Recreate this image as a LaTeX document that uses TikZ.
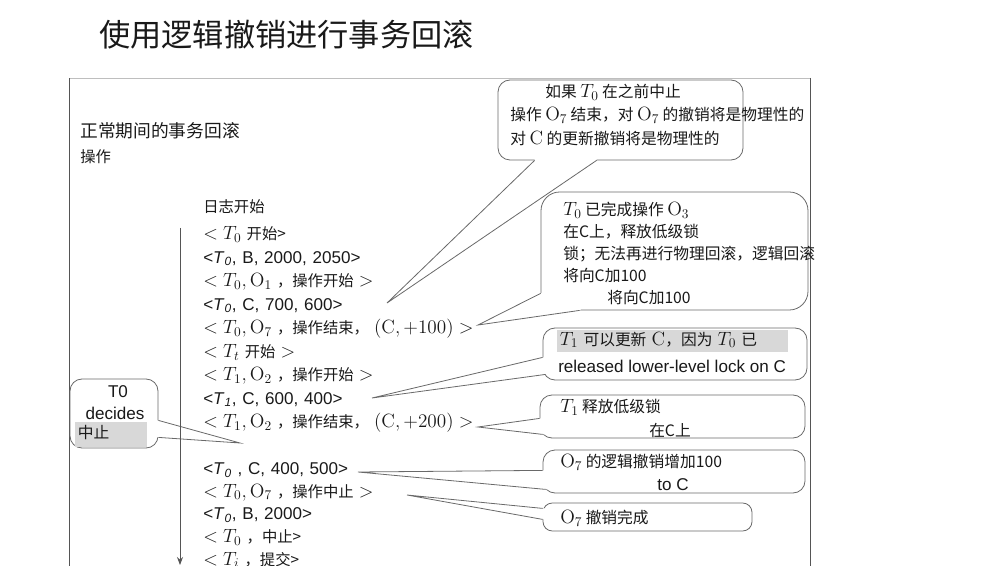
\documentclass[tikz,border=0pt]{standalone}
\usepackage[no-math]{fontspec}
\setmainfont{Liberation Sans}
\newfontfamily\cjk{Noto Sans CJK SC}
\DeclareMathSizes{11.5}{14}{10}{7.5}
\DeclareMathSizes{11.8}{14}{10}{7.5}
\usetikzlibrary{arrows.meta, positioning, calc, fit}
\definecolor{linegray}{RGB}{105,105,105}
\definecolor{framegray}{RGB}{85,85,85}
\definecolor{rulegray}{RGB}{190,190,190}
\definecolor{markgray}{RGB}{216,216,216}
\definecolor{textblack}{RGB}{25,25,25}
% wedge of a callout: base point, tip, base point, inward shift
\newcommand{\drawwedge}[4]{%
  \fill[white] (#1) -- (#2) -- (#3) -- ($(#3)+(#4)$) -- ($(#1)+(#4)$) -- cycle;
  \draw[wedge] (#1) -- (#2) -- (#3);}

\begin{document}
\begin{tikzpicture}[
        x=0.75pt, y=-0.75pt,
        zh/.style={font=\cjk\fontsize{11.5}{14}\selectfont, inner sep=0pt, anchor=west, text=textblack},
        note/.style={font=\cjk\fontsize{11.8}{14}\selectfont, inner sep=0pt, anchor=west, text=textblack},
        en/.style={font=\normalfont\fontsize{12.8}{15}\selectfont, inner sep=0pt, text=textblack},
        logline/.style={font=\cjk\fontsize{11.5}{14}\selectfont, inner sep=0pt, text width=8cm, align=left, text height=12.5pt, text depth=5pt, text=textblack},
        enlog/.style={logline, font=\normalfont\fontsize{12.8}{14}\selectfont},
        bubble/.style={rectangle, draw=linegray, fill=white, rounded corners=9pt, line width=0.6pt, inner sep=0pt},
        wedge/.style={draw=linegray, line width=0.6pt}
    ]
        \useasboundingbox (0,0) rectangle (1006,566);

        \node[anchor=west, inner sep=0pt, font=\cjk\fontsize{23.4}{26}\selectfont, text=textblack] (title) at (99,35) {使用逻辑撤销进行事务回滚};

        % frame
        \draw[rulegray, line width=0.6pt] (69,78) -- (810,78);
        \draw[framegray, line width=0.6pt] (69,566) -- (69,78);
        \draw[framegray, line width=0.6pt] (810,78) -- (810,566);

        \node[zh, font=\cjk\fontsize{13.3}{15}\selectfont] (normalhead) at (80,131) {正常期间的事务回滚};
        \node[zh] (ophead) at (80,157) {操作};

        % callouts
        \node[bubble, fit={(498,80) (743,160)}] (physnote) {};
        \node[bubble, rounded corners=14pt, fit={(541,192) (808,310)}] (lognote) {};
        \node[bubble, fit={(543,328) (807,380)}] (t1note) {};
        \node[bubble, fit={(540,395) (805,438)}] (locknote) {};
        \node[bubble, fit={(543,450) (805,493)}] (undonote) {};
        \node[bubble, rounded corners=7pt, fit={(543,503) (752,531)}] (donenote) {};
        \node[bubble, fit={(70,379) (158,448)}] (abortnote) {};

        \coordinate (phystip) at (387,303);
        \coordinate (logtip) at (478,325);
        \coordinate (t1tip) at (372,398);
        \coordinate (locktip) at (478,427);
        \coordinate (undotip) at (358,472);
        \coordinate (donetip) at (407,495);
        \coordinate (aborttip) at (240,443);

        \drawwedge{$(physnote.south west)+(37,0)$}{phystip}{$(physnote.south west)+(99,0)$}{0,-4}
        \drawwedge{$(lognote.south west)+(0,-17)$}{logtip}{$(lognote.south west)+(39,0)$}{4,-4}
        \drawwedge{$(t1note.south west)+(0,-23)$}{t1tip}{$(t1note.south west)+(3,-6)$}{4,0}
        \drawwedge{$(locknote.south west)+(0,-20)$}{locktip}{$(locknote.south west)+(3,-4)$}{4,0}
        \drawwedge{$(undonote.south west)+(0,-23)$}{undotip}{$(undonote.south west)+(3,-4)$}{4,0}
        \drawwedge{$(donenote.south west)+(0,-23)$}{donetip}{$(donenote.south west)+(0,-12)$}{4,0}
        \drawwedge{$(abortnote.south east)+(0,-28)$}{aborttip}{$(abortnote.south east)+(0,-11)$}{-4,0}

        % callout texts
        \node[note] (phys1) at (545,92) {如果 $T_0$ 在之前中止};
        \node[note] (phys2) at (510,115) {操作 $\mathrm{O}_7$ 结束，对 $\mathrm{O}_7$ 的撤销将是物理性的};
        \node[note] (phys3) at (510,138) {对 $\mathrm{C}$ 的更新撤销将是物理性的};

        \node[note] (log1) at (563,210) {$T_0$ 已完成操作 $\mathrm{O}_3$};
        \node[note] (log2) at (563,232) {在C上，释放低级锁};
        \node[note] (log3) at (563,254) {锁；无法再进行物理回滚，逻辑回滚};
        \node[note] (log4) at (563,276) {将向C加100};
        \node[note] (log5) at (607,298) {将向C加100};

        \node[note, fill=markgray, text width=169pt, inner xsep=2pt, text height=11.5pt, text depth=5.5pt] (t1line1) at (557,341) {$T_1$ 可以更新 $\mathrm{C}$，因为 $T_0$ 已};
        \node[en, anchor=west] (t1line2) at (558,366) {released lower-level lock on C};

        \node[note] (lock1) at (560,407) {$T_1$ 释放低级锁};
        \node[note, anchor=center] (lock2) at (670,430) {在C上};

        \node[note] (undo1) at (560,462) {$\mathrm{O}_7$ 的逻辑撤销增加100};
        \node[en] (undo2) at (673,485) {to C};

        \node[note] (done1) at (560,518) {$\mathrm{O}_7$ 撤销完成};

        \node[en] (abort1) at (118,392) {T0};
        \node[en] (abort2) at (115,413) {decides};
        \node[note, fill=markgray, text width=50pt, inner xsep=2pt, text height=12.5pt, text depth=6pt] (abort3) at (75,434.5) {中止};

        % log records
        \node[logline, anchor=west] (logstart) at (203,208) {日志开始};
        \node[logline, below=2pt of logstart] (t0start) {$<T_0$ 开始>};
        \node[enlog, below=-0.25pt of t0start] (t0b) {<\textit{T}\textsubscript{\textit{0}}, B, 2000, 2050>};
        \node[logline, below=-0.25pt of t0b] (t0o1start) {$<T_0,\mathrm{O}_1$ ，操作开始 $>$};
        \node[enlog, below=-0.25pt of t0o1start] (t0c) {<\textit{T}\textsubscript{\textit{0}}, C, 700, 600>};
        \node[logline, below=-0.25pt of t0c] (t0o7end) {$<T_0,\mathrm{O}_7$ ，操作结束， $(\mathrm{C},+100)>$};
        \node[logline, below=-0.25pt of t0o7end] (ttstart) {$<T_t$ 开始 $>$};
        \node[logline, below=-0.25pt of ttstart] (t1o2start) {$<T_1,\mathrm{O}_2$ ，操作开始 $>$};
        \node[enlog, below=-0.25pt of t1o2start] (t1c) {<\textit{T}\textsubscript{\textit{1}}, C, 600, 400>};
        \node[logline, below=-0.25pt of t1c] (t1o2end) {$<T_1,\mathrm{O}_2$ ，操作结束， $(\mathrm{C},+200)>$};
        \node[enlog, below=17pt of t1o2end] (t0cundo) {<\textit{T}\textsubscript{\textit{0}} , C, 400, 500>};
        \node[logline, below=-0.9pt of t0cundo] (t0o7abort) {$<T_0,\mathrm{O}_7$ ，操作中止 $>$};
        \node[enlog, below=-0.9pt of t0o7abort] (t0bundo) {<\textit{T}\textsubscript{\textit{0}}, B, 2000>};
        \node[logline, below=-0.9pt of t0bundo] (t0abort) {$<T_0$ ，中止>};
        \node[logline, below=-0.9pt of t0abort] (ticommit) {$<T_i$ ，提交>};

        \coordinate (logtop) at (180,228);
        \coordinate (logend) at (180,565);
        \draw[-{Stealth[length=6pt, width=4.5pt]}, framegray, line width=0.6pt] (logtop) -- (logend);
    \end{tikzpicture}
\end{document}
